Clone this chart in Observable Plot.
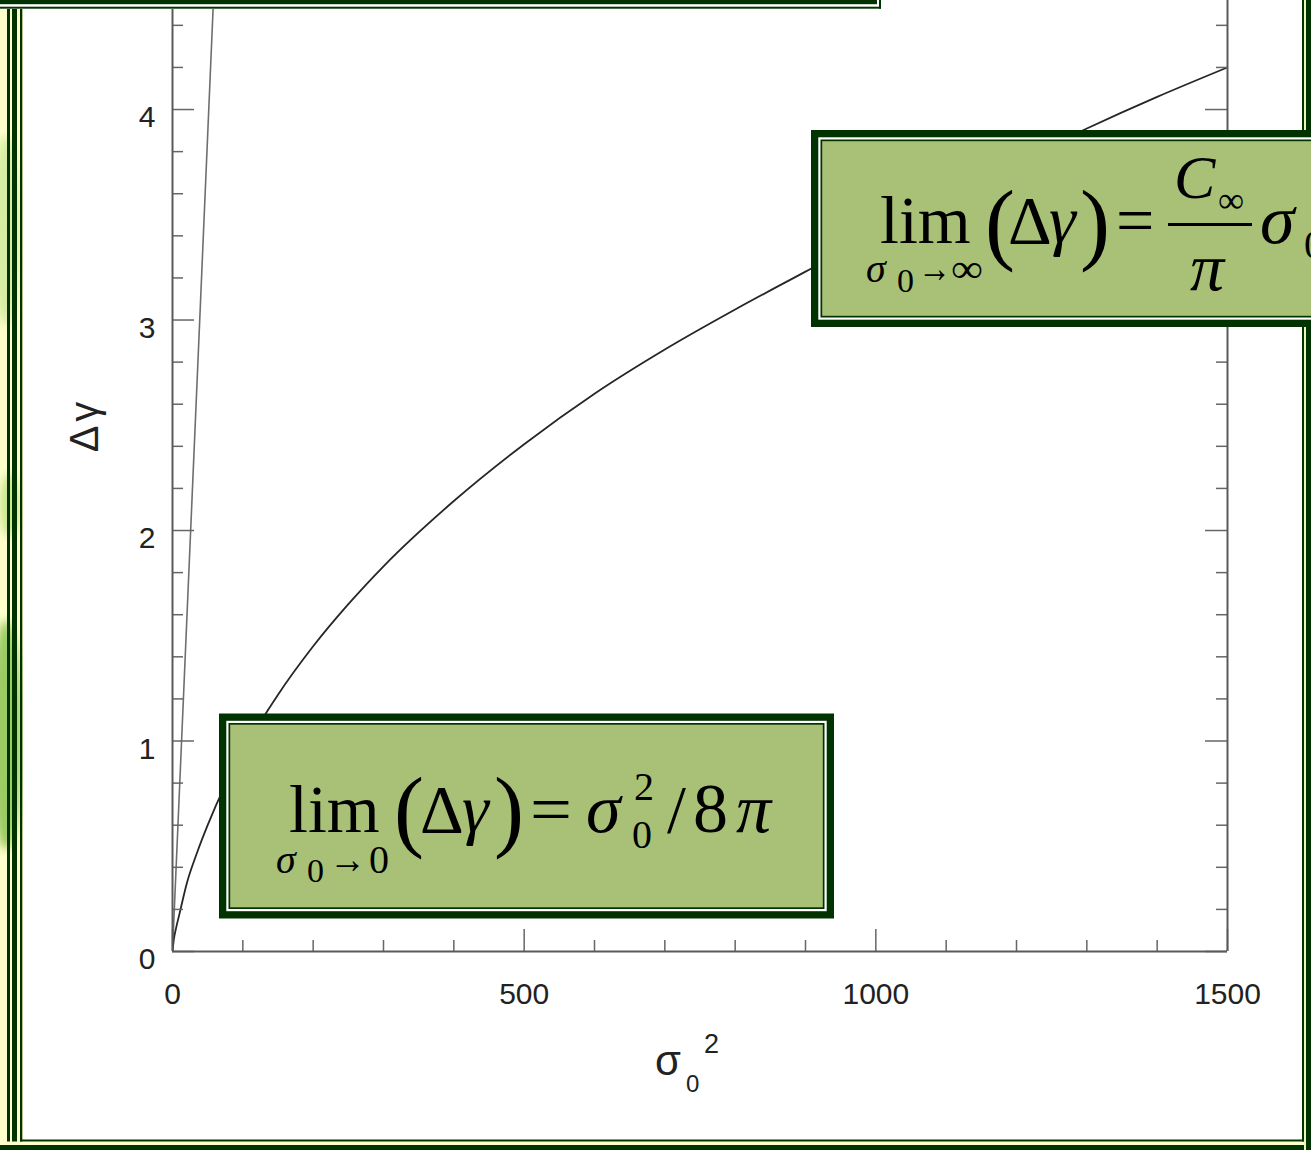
<!DOCTYPE html>
<html>
<head>
<meta charset="utf-8">
<script src="https://cdn.jsdelivr.net/npm/d3@7"></script>
<script src="https://cdn.jsdelivr.net/npm/@observablehq/plot@0.6"></script>
<style>
  html, body { margin: 0; padding: 0; background: #fff; overflow: hidden; }
  #chart { position: relative; width: 1311px; height: 1150px; overflow: hidden; }
  #chart svg { display: block; }
</style>
</head>
<body>
<div id="chart"></div>
<script>
// Excess line tension Δγ against σ0² for the full solution (curved)
// and the small-σ0 limit (steep straight branch).
const sigma2 = [0, 2, 5, 10, 20, 35, 50, 75, 100, 125, 150, 200, 250, 300, 400, 500,
                600, 700, 800, 900, 1000, 1100, 1200, 1300, 1400, 1500];
const deltaGamma = [0, 0.06, 0.11, 0.18, 0.32, 0.47, 0.60, 0.79, 0.95, 1.09, 1.22, 1.45,
                    1.65, 1.83, 2.14, 2.41, 2.65, 2.86, 3.05, 3.23, 3.41, 3.58, 3.75,
                    3.91, 4.06, 4.20];
const smallSigma2 = [0, 20, 40, 58.5];
const smallDeltaGamma = [0, 1.55, 3.1, 4.54];

// Axis ticks
const xMajor = [0, 500, 1000, 1500];
const xMinor = [100, 200, 300, 400, 600, 700, 800, 900, 1100, 1200, 1300, 1400];
const yMajor = [0, 1, 2, 3, 4];
const yMinor = [0.2, 0.4, 0.6, 0.8, 1.2, 1.4, 1.6, 1.8, 2.2, 2.4, 2.6, 2.8,
                3.2, 3.4, 3.6, 3.8, 4.2, 4.4];

const W = 1311, H = 1150;
const mL = 172, mR = 84, mT = 0, mB = 199;
const plotW = W - mL - mR;
const plotH = H - mT - mB;
const majorLen = 22, minorLen = 11;
const axisGray = "#666";

const curve = sigma2.map((x, i) => ({x, y: deltaGamma[i]}));
const branch = smallSigma2.map((x, i) => ({x, y: smallDeltaGamma[i]}));

const chart = Plot.plot({
  width: W, height: H,
  marginLeft: mL, marginRight: mR, marginTop: mT, marginBottom: mB,
  x: {domain: [0, 1500], axis: null},
  y: {domain: [0, 4.518], axis: null},
  style: {background: "transparent", color: "#222",
          fontFamily: "'Liberation Sans', Arial, Helvetica, sans-serif"},
  marks: [
    Plot.line(branch, {x: "x", y: "y", stroke: "#6e6e6e", strokeWidth: 1.6, clip: true}),
    Plot.line(curve, {x: "x", y: "y", stroke: "#262626", strokeWidth: 1.8,
                      curve: "monotone-x", clip: true}),
    // inward ticks: left, right, bottom
    Plot.tickY(yMinor, {y: d => d, stroke: axisGray, strokeWidth: 1.5, insetRight: plotW - minorLen}),
    Plot.tickY(yMajor, {y: d => d, stroke: axisGray, strokeWidth: 1.5, insetRight: plotW - majorLen}),
    Plot.tickY(yMinor, {y: d => d, stroke: axisGray, strokeWidth: 1.5, insetLeft: plotW - minorLen}),
    Plot.tickY(yMajor, {y: d => d, stroke: axisGray, strokeWidth: 1.5, insetLeft: plotW - majorLen}),
    Plot.tickX(xMinor, {x: d => d, stroke: axisGray, strokeWidth: 1.5, insetTop: plotH - minorLen}),
    Plot.tickX(xMajor, {x: d => d, stroke: axisGray, strokeWidth: 1.5, insetTop: plotH - majorLen}),
    Plot.ruleX([0, 1500], {stroke: "#5a5a5a", strokeWidth: 2}),
    Plot.ruleY([0], {stroke: "#5a5a5a", strokeWidth: 2}),
    Plot.axisY(yMajor, {tickSize: 0, tickPadding: 17, fontSize: 30, dy: 8, label: null,
                        tickFormat: d => String(d)}),
    Plot.axisX(xMajor, {tickSize: 0, tickPadding: 31, fontSize: 30, label: null,
                        tickFormat: d => String(d)})
  ]
});
document.getElementById("chart").appendChild(chart);

const svg = d3.select(chart);
const dark = "#003300", pale = "#FFFFCC", boxGreen = "#A9C077";

// ---- background layer: slide edge with soft green shapes ----
const defs = svg.insert("defs", ":first-child");
defs.append("filter").attr("id", "soft").append("feGaussianBlur").attr("stdDeviation", 4);
defs.append("clipPath").attr("id", "edgeClip")
  .append("rect").attr("x", 0).attr("y", 0).attr("width", 23).attr("height", H);
const bg = svg.insert("g", "defs + *");
bg.append("rect").attr("x", 0).attr("y", 0).attr("width", W).attr("height", H).attr("fill", "#fff");
const edge = bg.append("g").attr("clip-path", "url(#edgeClip)");
edge.append("rect").attr("x", 0).attr("y", 0).attr("width", 23).attr("height", H).attr("fill", pale);
const blobs = [
  {cx: 6, cy: 230, rx: 14, ry: 95, fill: "#D6EDA2"},
  {cx: 10, cy: 505, rx: 10, ry: 32, fill: "#C9E68E"},
  {cx: 6, cy: 735, rx: 16, ry: 115, fill: "#9CCB64"}
];
edge.selectAll("ellipse").data(blobs).join("ellipse")
  .attr("cx", d => d.cx).attr("cy", d => d.cy).attr("rx", d => d.rx).attr("ry", d => d.ry)
  .attr("fill", d => d.fill).attr("filter", "url(#soft)");

// ---- axis titles ----
const sans = "'Liberation Sans', Arial, Helvetica, sans-serif";
svg.append("text").attr("transform", "translate(98,425) rotate(-90)")
  .attr("text-anchor", "middle").attr("font-family", sans).attr("font-size", 40)
  .attr("letter-spacing", 4).attr("fill", "#222").text("Δγ");
const xt = svg.append("g").attr("font-family", sans).attr("fill", "#222").attr("text-anchor", "start");
xt.append("text").attr("x", 655).attr("y", 1075).attr("font-size", 42).text("σ");
xt.append("text").attr("x", 686).attr("y", 1092).attr("font-size", 24).text("0");
xt.append("text").attr("x", 704).attr("y", 1053).attr("font-size", 27).text("2");

// ---- slide frame ----
const frame = svg.append("g").attr("fill", dark);
const r = (g, x, y, w, h, fill) => g.append("rect").attr("x", x).attr("y", y)
  .attr("width", w).attr("height", h).attr("fill", fill || dark);
// left rails
r(frame, 7, 0, 3, H); r(frame, 12, 0, 5, H); r(frame, 20, 0, 2.3, H);
// bottom rails
r(frame, 0, 1141.5, W, 3.5, pale); r(frame, 20, 1139.5, 1284, 2); r(frame, 0, 1145, W, 5);
// right rails
r(frame, 1304, 0, 2, H, "#EEF6B4"); r(frame, 1302, 0, 2, 1141.5); r(frame, 1306, 0, 5, H);
// top panel edge
r(frame, 0, 0, 881, 9, "#fff"); r(frame, 0, 0, 877, 4.2); r(frame, 0, 6.7, 881, 2); r(frame, 879, 0, 2, 8.7);

// ---- formula panels ----
function panel(x, y, w, h) {
  const g = svg.append("g").attr("text-anchor", "start");
  r(g, x, y, w, h);
  r(g, x + 7.3, y + 7.3, w - 14.6, h - 14.6, "#fff");
  r(g, x + 9.5, y + 9.5, w - 19, h - 19);
  r(g, x + 11.2, y + 11.2, w - 22.4, h - 22.4, boxGreen);
  return g;
}
const serif = "'Liberation Serif', 'Times New Roman', Times, serif";
function t(g, s, x, y, size, italic, len) {
  const el = g.append("text").attr("x", x).attr("y", y).attr("font-size", size)
    .attr("font-family", serif).attr("font-style", italic ? "italic" : "normal")
    .attr("text-anchor", "start").attr("fill", "#000").text(s);
  if (len) el.attr("textLength", len).attr("lengthAdjust", "spacingAndGlyphs");
  return el;
}

// small-σ0 limit
const p1 = panel(219, 713.5, 615, 205);
t(p1, "lim", 289, 832, 68);
t(p1, "σ", 276, 873, 40, true);
t(p1, "0", 307, 882, 34);
t(p1, "→", 329, 873, 40, false, 37);
t(p1, "0", 369, 873, 40);
t(p1, "(", 394, 840, 90);
t(p1, "Δ", 420, 832, 68);
t(p1, "γ", 462, 832, 68, true);
t(p1, ")", 494, 840, 90);
t(p1, "=", 530, 832, 68, false, 42);
t(p1, "σ", 586, 832, 70, true);
t(p1, "2", 634, 800, 40);
t(p1, "0", 632, 848, 40);
t(p1, "/", 667, 832, 68);
t(p1, "8", 693, 832, 70);
t(p1, "π", 736, 832, 70, true);

// large-σ0 limit
const p2 = panel(811, 130, 520, 197);
t(p2, "lim", 880, 243, 68);
t(p2, "σ", 866, 282, 40, true);
t(p2, "0", 897, 292, 34);
t(p2, "→", 918, 282, 40, false, 33);
t(p2, "∞", 951, 282, 40, false, 32);
t(p2, "(", 985, 253, 90);
t(p2, "Δ", 1008, 243, 68);
t(p2, "γ", 1049, 243, 68, true);
t(p2, ")", 1080, 253, 90);
t(p2, "=", 1116, 243, 68);
t(p2, "C", 1174, 198, 62, true);
t(p2, "∞", 1218, 212, 36, false, 26);
p2.append("line").attr("x1", 1168).attr("x2", 1252).attr("y1", 224.5).attr("y2", 224.5)
  .attr("stroke", "#000").attr("stroke-width", 3);
t(p2, "π", 1190, 290, 68, true);
t(p2, "σ", 1260, 243, 70, true);
t(p2, "0", 1304, 258, 40);
</script>
</body>
</html>
